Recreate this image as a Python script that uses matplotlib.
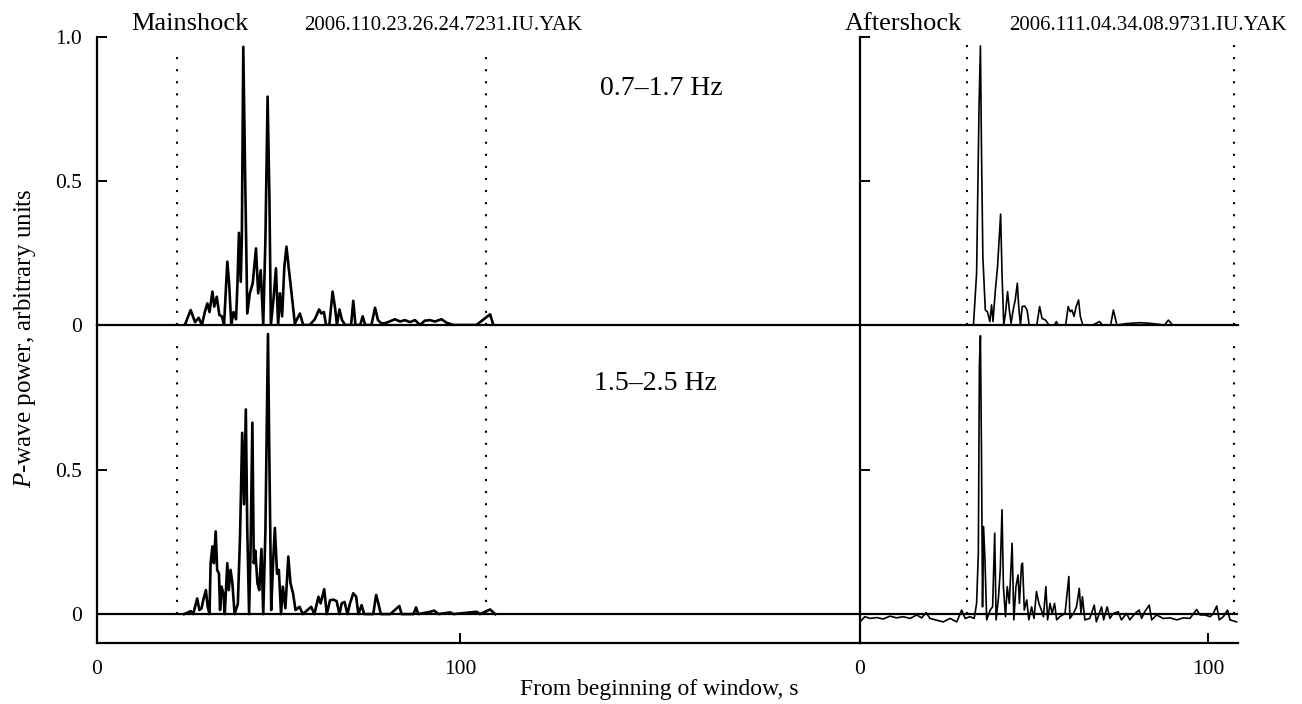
import numpy as np
import matplotlib.pyplot as plt

plt.rcParams['font.family'] = ['Liberation Serif', 'DejaVu Serif']
plt.rcParams['mathtext.fontset'] = 'custom'
plt.rcParams['mathtext.rm'] = 'Liberation Serif'
plt.rcParams['mathtext.it'] = 'Liberation Serif:italic'

# P-wave power envelopes, time in s from beginning of window
# mainshock, 0.7-1.7 Hz
main_lo_t = [24.2, 25.8, 27.0, 28.0, 28.9, 29.7, 30.4, 31.0, 31.8, 32.3, 33.0, 33.7, 34.4, 35.0,
             35.9, 36.4, 37.0, 37.6, 38.3, 38.7, 39.1, 39.6, 39.9, 40.3, 40.8, 41.4, 42.1, 42.9,
             43.8, 44.4, 45.1, 45.8, 46.4, 47.0, 47.5, 47.9, 48.6, 49.3, 49.9, 50.4, 51.0, 51.6,
             52.2, 52.8, 53.6, 54.5, 55.9, 56.8, 58.6, 60.0, 61.2, 61.8, 62.5, 63.1, 64.0, 64.9,
             65.6, 66.1, 66.8, 67.5, 68.4, 70.0, 70.6, 71.2, 72.5, 73.2, 73.9, 75.6, 76.6, 77.4,
             78.4, 79.8, 82.1, 83.5, 84.8, 86.2, 87.6, 89.0, 90.3, 91.7, 93.1, 94.9, 96.3, 98.1,
             100.9, 104.5, 108.3, 109.2]
main_lo_p = [0.0, 0.052, 0.01, 0.025, 0.0, 0.045, 0.075, 0.045, 0.116, 0.064, 0.098, 0.035, 0.03, 0.0,
             0.22, 0.145, 0.0, 0.045, 0.02, 0.145, 0.32, 0.15, 0.30, 0.966, 0.53, 0.04, 0.11, 0.145,
             0.266, 0.11, 0.19, 0.0, 0.30, 0.793, 0.44, 0.0, 0.087, 0.197, 0.0, 0.11, 0.03, 0.20,
             0.272, 0.20, 0.11, 0.005, 0.04, 0.0, 0.0, 0.02, 0.054, 0.04, 0.045, 0.0, 0.0, 0.116,
             0.058, 0.0, 0.054, 0.017, 0.0, 0.0, 0.084, 0.0, 0.0, 0.03, 0.0, 0.0, 0.06, 0.017,
             0.005, 0.008, 0.02, 0.012, 0.017, 0.01, 0.017, 0.0, 0.015, 0.017, 0.012, 0.02, 0.008, 0.0,
             0.0, 0.0, 0.037, 0.0]

# mainshock, 1.5-2.5 Hz
main_hi_t = [24.0, 25.8, 26.5, 27.6, 28.2, 28.8, 29.3, 30.0, 30.5, 31.0, 31.3, 31.8, 32.2, 32.7,
             33.1, 33.6, 33.9, 34.3, 34.8, 35.2, 35.9, 36.3, 36.8, 37.3, 37.9, 38.8, 39.4, 40.0,
             40.5, 41.0, 41.4, 41.9, 42.3, 42.8, 43.2, 43.6, 44.2, 44.7, 45.3, 45.8, 46.4, 47.1,
             47.5, 48.0, 48.5, 49.0, 49.6, 50.1, 50.7, 51.2, 51.9, 52.7, 53.3, 54.0, 54.7, 55.8,
             56.7, 59.0, 59.9, 61.0, 61.6, 62.6, 63.3, 64.2, 65.1, 66.0, 66.8, 67.4, 68.2, 69.0,
             69.7, 70.6, 71.4, 72.0, 72.9, 73.6, 76.1, 76.9, 77.5, 78.2, 80.8, 83.3, 83.9, 87.2,
             87.9, 88.5, 91.8, 92.9, 94.1, 97.3, 98.2, 104.6, 105.5, 108.3, 109.7]
main_hi_p = [0.0, 0.01, 0.0, 0.054, 0.014, 0.02, 0.05, 0.083, 0.025, 0.0, 0.176, 0.234, 0.176, 0.286,
             0.153, 0.14, 0.014, 0.095, 0.072, 0.0, 0.176, 0.083, 0.153, 0.107, 0.0, 0.035, 0.266, 0.627,
             0.38, 0.708, 0.29, 0.0, 0.22, 0.662, 0.176, 0.22, 0.107, 0.083, 0.225, 0.0, 0.29, 0.969,
             0.52, 0.014, 0.176, 0.298, 0.14, 0.153, 0.0, 0.095, 0.02, 0.199, 0.107, 0.072, 0.014, 0.025,
             0.0, 0.025, 0.0, 0.06, 0.037, 0.086, 0.0, 0.048, 0.05, 0.045, 0.0, 0.037, 0.042, 0.0,
             0.037, 0.072, 0.06, 0.0, 0.031, 0.0, 0.0, 0.066, 0.037, 0.0, 0.0, 0.028, 0.0, 0.0,
             0.023, 0.0, 0.008, 0.012, 0.0, 0.006, 0.0, 0.008, 0.0, 0.016, 0.0]

# aftershock, 0.7-1.7 Hz
after_lo_t = [32.6, 33.5, 34.2, 34.6, 34.9, 35.3, 36.0, 36.6, 37.3, 37.8, 38.2, 38.9, 39.5, 40.4,
              40.8, 41.3, 41.8, 42.4, 42.9, 43.4, 44.0, 44.6, 45.2, 45.6, 46.1, 46.6, 47.3, 48.0,
              48.6, 50.8, 51.6, 52.3, 53.3, 54.3, 55.9, 56.4, 56.9, 59.1, 59.8, 60.4, 60.9, 61.5,
              62.1, 62.8, 63.3, 64.0, 66.9, 68.8, 69.7, 72.0, 72.8, 73.8, 76.6, 80.4, 83.3, 87.5,
              88.6, 89.8]
after_lo_p = [0.0, 0.18, 0.758, 0.969, 0.61, 0.237, 0.052, 0.046, 0.012, 0.07, 0.012, 0.122, 0.20, 0.385,
              0.18, 0.0, 0.04, 0.116, 0.052, 0.006, 0.052, 0.087, 0.145, 0.064, 0.0, 0.064, 0.066, 0.052,
              0.0, 0.0, 0.064, 0.023, 0.017, 0.0, 0.0, 0.012, 0.0, 0.0, 0.064, 0.046, 0.052, 0.03,
              0.064, 0.087, 0.03, 0.0, 0.0, 0.012, 0.0, 0.0, 0.052, 0.0, 0.005, 0.008, 0.006, 0.0,
              0.017, 0.0]

# aftershock, 1.5-2.5 Hz
after_hi_t = [0.0, 1.4, 2.9, 4.8, 6.7, 8.6, 10.5, 12.4, 14.4, 16.3, 17.7, 19.0, 20.1, 22.0,
              23.9, 25.9, 27.8, 29.2, 30.2, 31.6, 32.8, 33.5, 34.0, 34.3, 34.6, 34.9, 35.2, 35.5,
              35.9, 36.4, 37.4, 38.1, 38.7, 39.1, 39.8, 40.3, 40.8, 41.2, 41.8, 42.3, 42.9, 43.7,
              44.2, 44.8, 45.4, 45.8, 46.4, 46.7, 47.2, 47.9, 48.5, 49.3, 50.0, 50.7, 51.4, 52.1,
              52.7, 53.4, 53.9, 54.6, 55.2, 55.9, 56.5, 57.4, 58.9, 60.0, 60.3, 61.3, 62.2, 63.0,
              63.5, 63.9, 64.6, 66.0, 67.3, 67.9, 69.4, 70.0, 71.0, 71.8, 72.7, 74.2, 75.1, 76.6,
              77.5, 79.0, 80.2, 80.9, 81.8, 83.1, 83.8, 85.2, 87.1, 89.1, 91.0, 92.9, 94.8, 96.7,
              97.7, 99.1, 100.6, 101.5, 102.5, 103.2, 104.4, 105.6, 106.3, 108.2]
after_hi_p = [-0.027, -0.009, -0.015, -0.012, -0.017, -0.007, -0.013, -0.009, -0.015, -0.003, -0.013, 0.005, -0.015, -0.021,
              -0.027, -0.015, -0.027, 0.014, -0.015, -0.009, -0.015, 0.037, 0.21, 0.859, 0.963, 0.56, 0.025, 0.303,
              0.188, -0.02, 0.014, 0.025, 0.28, -0.02, 0.06, 0.153, 0.361, 0.095, -0.009, 0.095, 0.037, 0.245,
              -0.02, 0.095, 0.135, 0.037, 0.17, 0.176, 0.014, 0.049, -0.02, 0.025, -0.015, 0.078, 0.037, 0.014,
              -0.009, 0.095, -0.02, 0.037, 0.002, 0.037, -0.02, -0.009, 0.002, 0.13, -0.015, 0.002, 0.025, 0.089,
              0.002, 0.06, -0.02, -0.015, 0.031, -0.027, 0.025, -0.02, 0.025, -0.015, 0.002, 0.008, -0.02, 0.002,
              -0.02, 0.002, 0.014, -0.015, 0.008, 0.031, -0.02, -0.003, -0.015, -0.013, -0.02, -0.013, -0.015, 0.016,
              -0.003, -0.003, -0.009, 0.002, 0.028, -0.02, -0.009, 0.014, -0.02, -0.027]

# analysis windows (dotted lines)
main_window = [22.0, 107.2]
after_window = [30.7, 107.5]

W, H = 1302, 704
fig = plt.figure(figsize=(W / 100, H / 100), dpi=100)


def rect(x0, y0, x1, y1):
    # pixel box -> figure fraction
    return [x0 / W, 1 - y1 / H, (x1 - x0) / W, (y1 - y0) / H]


ax_tl = fig.add_axes(rect(97, 37, 860, 325))
ax_bl = fig.add_axes(rect(97, 325, 860, 643))
ax_tr = fig.add_axes(rect(860, 37, 1238, 325))
ax_br = fig.add_axes(rect(860, 325, 1238, 643))

for ax in (ax_tl, ax_bl, ax_tr, ax_br):
    ax.set_facecolor('none')
    ax.spines['top'].set_visible(False)
    ax.spines['right'].set_visible(False)
    ax.spines['left'].set_linewidth(1.6)
    ax.spines['bottom'].set_linewidth(1.6)
    ax.tick_params(direction='in', length=7, width=1.4, labelsize=15.5, pad=11)
    ax.tick_params(axis='x', pad=12)

for ax in (ax_tl, ax_tr):
    ax.set_ylim(0, 1.0)
    ax.set_yticks([0, 0.5, 1.0])
    ax.tick_params(axis='x', bottom=False, labelbottom=False)
for ax in (ax_bl, ax_br):
    ax.set_ylim(-0.1, 1.0)
    ax.set_yticks([0, 0.5])
    ax.axhline(0, color='black', lw=1.6)
    ax.set_xticks([0, 100])

ax_tl.set_yticklabels(['0', '0.5', '1.0'])
ax_bl.set_yticklabels(['0', '0.5'])
for ax in (ax_tr, ax_br):
    ax.tick_params(axis='y', labelleft=False)

for ax in (ax_tl, ax_bl):
    ax.set_xlim(0, 210.2)
for ax in (ax_tr, ax_br):
    ax.set_xlim(0, 108.6)

dots = (0, (1, 4.8))
for ax, win, top in ((ax_tl, main_window, 0.955), (ax_bl, main_window, 0.94),
                     (ax_tr, after_window, 0.985), (ax_br, after_window, 0.96)):
    ax.vlines(win, 0, top, colors='black', lw=1.5, linestyles=dots)

ax_tl.plot(main_lo_t, main_lo_p, color='black', lw=1.9)
ax_bl.plot(main_hi_t, main_hi_p, color='black', lw=1.9)
ax_tr.plot(after_lo_t, after_lo_p, color='black', lw=1.2)
ax_br.plot(after_hi_t, after_hi_p, color='black', lw=1.2)


def ftext(px, py, s, va='baseline', **kw):
    fig.text(px / W, 1 - py / H, s, ha='center', va=va, **kw)


ftext(190, 30, 'Mainshock', fontsize=19)
ftext(443, 30, '2006.110.23.26.24.7231.IU.YAK', fontsize=15)
ftext(903, 30, 'Aftershock', fontsize=19)
ftext(1148, 30, '2006.111.04.34.08.9731.IU.YAK', fontsize=15)
ftext(661, 95, '0.7–1.7 Hz', fontsize=20)
ftext(655, 390, '1.5–2.5 Hz', fontsize=20)
ftext(659, 689, 'From beginning of window, s', fontsize=17, va='center')
ftext(25, 338, '$P$-wave power, arbitrary units', fontsize=18, va='center', rotation=90)

fig.savefig('out.png', dpi=100)
